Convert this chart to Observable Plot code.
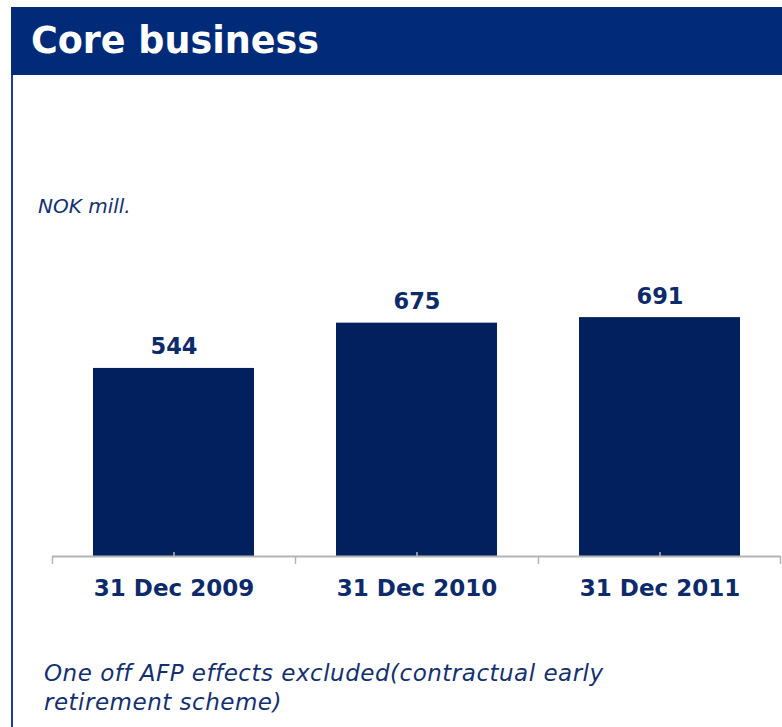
<!DOCTYPE html>
<html>
<head>
<meta charset="utf-8">
<script src="https://cdn.jsdelivr.net/npm/d3@7"></script>
<script src="https://cdn.jsdelivr.net/npm/@observablehq/plot@0.6"></script>
<style>
  html, body { margin: 0; padding: 0; background: #fff; }
  body { width: 782px; height: 727px; position: relative; overflow: hidden; font-family: "DejaVu Sans", Verdana, sans-serif; }
  #header { position: absolute; left: 11px; top: 7px; width: 771px; height: 68px; background: #012a78; }
  #title { position: absolute; left: 31px; top: 20px; color: #fff; font-size: 36.5px; font-weight: bold; line-height: 42px; white-space: nowrap; }
  #leftline { position: absolute; left: 11px; top: 75px; width: 2px; height: 652px; background: #1a3c95; }
  #unit { position: absolute; left: 38px; top: 194px; color: #13306f; font-size: 20px; font-style: italic; white-space: nowrap; }
  #chart { position: absolute; left: 0; top: 250px; }
  #chart svg text { font-weight: bold; }
  #foot { position: absolute; left: 44px; top: 659px; color: #13306f; font-size: 23px; font-style: italic; line-height: 29px; letter-spacing: 0.5px; white-space: nowrap; }
</style>
</head>
<body>
<div id="header"></div>
<div id="title"></div>
<div id="leftline"></div>
<div id="unit"></div>
<div id="chart"></div>
<div id="foot"></div>
<script>
const titleText = "Core business";
const unitText = "NOK mill.";
const categories = ["31 Dec 2009", "31 Dec 2010", "31 Dec 2011"];
const values = [544, 675, 691];
const footLines = ["One off AFP effects excluded(contractual early", "retirement scheme)"];

document.getElementById("title").textContent = titleText;
document.getElementById("unit").textContent = unitText;
document.getElementById("foot").innerHTML = footLines.map(s => s.replace(/&/g, "&amp;").replace(/</g, "&lt;")).join("<br>");

const data = categories.map((c, i) => ({cat: c, value: values[i]}));

const W = 782, mL = 52, mR = 1;
const padIn = 0.337, padOut = padIn / 2;
const step = (W - mL - mR) / (categories.length - padIn + 2 * padOut);
const navy = "#0d2a6b";
const axisGray = "#b4b4b4";

const chart = Plot.plot({
  width: W,
  height: 370,
  marginLeft: mL,
  marginRight: mR,
  marginTop: 64,
  marginBottom: 64,
  style: {background: "transparent", overflow: "visible", fontFamily: "DejaVu Sans, Verdana, sans-serif"},
  x: {domain: categories, paddingInner: padIn, paddingOuter: padOut, label: null},
  y: {domain: [0, 700], axis: null},
  marks: [
    Plot.barY(data, {x: "cat", y: "value", fill: "#02205e"}),
    Plot.ruleY([0], {stroke: axisGray, strokeWidth: 2}),
    Plot.ruleX(categories, {x: d => d, y1: 0, y2: 0, insetTop: -4, stroke: axisGray, strokeWidth: 1.5}),
    Plot.ruleX(categories, {x: d => d, y1: 0, y2: 0, insetBottom: -8, dx: -step / 2, stroke: axisGray, strokeWidth: 1.5}),
    Plot.ruleX(categories.slice(-1), {x: d => d, y1: 0, y2: 0, insetBottom: -8, dx: step / 2 - 1, stroke: axisGray, strokeWidth: 1.5}),
    Plot.text(data, {x: "cat", y: "value", text: d => String(d.value), dy: -14, lineAnchor: "bottom", fontSize: 22.5, fontWeight: "bold", fill: navy}),
    Plot.axisX({tickSize: 0, tickPadding: 23, fontSize: 23, fontWeight: "bold", color: navy, label: null})
  ]
});
document.getElementById("chart").appendChild(chart);
</script>
</body>
</html>
